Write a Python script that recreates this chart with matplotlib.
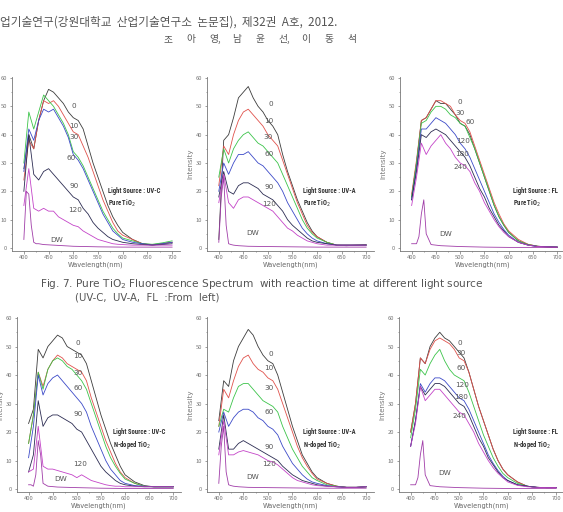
import matplotlib
matplotlib.use('Agg')
import matplotlib.pyplot as plt
from matplotlib.ticker import MultipleLocator

plt.rcParams['font.family'] = ['Noto Sans CJK KR', 'DejaVu Sans']

# =====================
# DATA
# =====================
WL = [400, 410, 420, 430, 440, 450, 460, 470, 480, 490, 500, 510, 520,
      530, 540, 550, 560, 570, 580, 590, 600, 620, 640, 660, 680, 700]
DW_WL = [400, 405, 410, 415, 420, 425, 430, 440, 460, 500, 550, 600, 650, 700]

TIMES_UV = ['0', '10', '30', '60', '90', '120']
TIMES_FL = ['0', '30', '60', '120', '180', '240']

# Pure TiO2, UV-C
uvc_pure = [
    [28, 40, 35, 45, 52, 56, 55, 53, 51, 48, 46, 45, 42, 36, 30, 25, 20, 15, 11, 8, 5.5, 3, 1.5, 1.2, 1.5, 2],
    [24, 38, 35, 45, 52, 51, 52, 50, 47, 44, 41, 40, 36, 32, 27, 22, 17, 13, 9, 6, 4.5, 3, 1.5, 1, 1.5, 2],
    [30, 48, 42, 48, 54, 52, 50, 47, 44, 40, 34, 32, 29, 25, 21, 17, 13, 10, 7, 5, 3.5, 2.5, 1.5, 1.3, 1.8, 2.5],
    [27, 42, 38, 45, 49, 48, 49, 46, 43, 39, 33, 31, 28, 24, 20, 16, 12, 9, 6, 4.5, 3, 2, 1.5, 1, 1.5, 2],
    [20, 40, 26, 24, 27, 28, 26, 24, 22, 20, 18, 17, 14, 12, 9, 7, 5.5, 4, 3, 2.5, 2, 1.5, 1.2, 1, 1.2, 1.5],
    [15, 28, 14, 13, 14, 13, 13, 11, 10, 9, 8, 7.5, 6, 5, 4, 3, 2.5, 2, 1.5, 1.3, 1.2, 1, 1, 1, 1, 1],
]
uvc_pure_dw = [3, 20, 19, 8, 2, 1.5, 1.5, 1.2, 1, 0.6, 0.4, 0.3, 0.3, 0.3]

# Pure TiO2, UV-A
uva_pure = [
    [3, 38, 40, 46, 53, 55, 57, 53, 50, 48, 45, 43, 40, 33, 27, 22, 17, 13, 9, 6, 4, 2, 1, 0.8, 1, 1.2],
    [22, 36, 33, 40, 45, 48, 49, 47, 45, 43, 40, 38, 36, 31, 26, 21, 16, 12, 8, 5.5, 4, 2, 1, 1, 1, 1],
    [25, 35, 30, 35, 38, 40, 41, 39, 37, 36, 34, 32, 30, 26, 22, 18, 14, 10, 7, 5, 3.5, 2, 1, 1, 1, 1],
    [20, 30, 26, 30, 33, 33, 34, 32, 30, 29, 27, 25, 23, 20, 16, 13, 10, 7, 5, 3.5, 2.5, 1.5, 1, 1, 1, 1],
    [18, 27, 20, 19, 22, 23, 23, 22, 21, 19, 18, 17, 15, 13, 10, 8, 6.5, 5, 3.5, 2.5, 2, 1.5, 1, 1, 1, 1],
    [16, 26, 16, 14, 17, 18, 18, 17, 16, 15, 14, 13, 11, 9, 7, 6, 4.5, 3.5, 2.5, 2, 1.5, 1, 1, 1, 1, 1],
]
uva_pure_dw = [2, 18, 25, 8, 1.5, 1.2, 1, 0.8, 0.6, 0.5, 0.4, 0.3, 0.3, 0.3]

# Pure TiO2, FL
fl_pure = [
    [18, 30, 45, 46, 49, 52, 51, 51, 49, 47, 44, 43, 40, 35, 30, 25, 20, 15, 11, 8, 5.5, 2.5, 1.2, 0.6, 0.4, 0.3],
    [19, 31, 45, 46, 49, 52, 52, 51, 50, 47, 45, 44, 41, 36, 31, 26, 21, 16, 12, 8.5, 6, 3, 1.3, 0.6, 0.4, 0.3],
    [18, 30, 44, 45, 48, 50, 50, 49, 47, 46, 44, 43, 39, 35, 30, 25, 20, 15, 11, 8, 5.5, 2.5, 1.2, 0.6, 0.4, 0.3],
    [17, 28, 42, 42, 44, 46, 45, 44, 42, 40, 37, 35, 32, 28, 24, 20, 16, 12, 9, 6.5, 4.5, 2, 1, 0.5, 0.4, 0.3],
    [17, 27, 40, 39, 41, 42, 41, 40, 38, 36, 34, 32, 29, 25, 21, 18, 14, 11, 8, 6, 4, 2, 1, 0.5, 0.4, 0.3],
    [15, 25, 37, 33, 36, 38, 40, 37, 35, 32, 30, 29, 27, 23, 20, 16, 13, 10, 7.5, 5.5, 4, 2, 1, 0.5, 0.4, 0.3],
]
fl_pure_dw = [1.5, 1.5, 1.5, 4, 12, 17, 5, 1.2, 0.8, 0.5, 0.3, 0.2, 0.2, 0.2]

# N-doped TiO2, UV-C
uvc_ndop = [
    [23, 28, 49, 46, 50, 52, 54, 53, 50, 49, 48, 47, 44, 38, 32, 26, 21, 16, 12, 8, 5, 2.5, 1.2, 0.8, 0.8, 0.8],
    [16, 26, 41, 36, 42, 45, 47, 46, 44, 43, 42, 41, 38, 32, 27, 22, 17, 13, 9, 6, 4, 2, 1, 0.8, 0.8, 0.8],
    [16, 26, 41, 35, 42, 45, 46, 45, 43, 42, 40, 38, 35, 30, 25, 20, 15, 11, 8, 5.5, 3.5, 2, 1, 0.8, 0.8, 0.8],
    [11, 22, 40, 33, 37, 39, 40, 38, 36, 34, 32, 30, 27, 22, 18, 14, 10, 7, 5, 3, 2, 1.2, 1, 0.8, 0.8, 0.8],
    [6, 12, 31, 22, 25, 26, 26, 25, 24, 23, 21, 20, 17, 14, 11, 8, 6, 4.5, 3, 2, 1.5, 1, 0.8, 0.8, 0.8, 0.8],
    [6, 7, 22, 8, 7, 7, 6.5, 6, 5.5, 5, 4, 5, 4, 3, 2.5, 2, 1.5, 1.2, 1, 1, 0.8, 0.8, 0.8, 0.8, 0.8, 0.8],
]
uvc_ndop_dw = [1.5, 1.5, 1, 5, 17, 12, 2, 1, 0.7, 0.5, 0.3, 0.2, 0.2, 0.2]

# N-doped TiO2, UV-A
uva_ndop = [
    [24, 38, 36, 45, 50, 53, 56, 54, 50, 47, 45, 44, 40, 34, 28, 22, 17, 12, 9, 6, 4, 2, 1, 0.6, 0.6, 0.8],
    [22, 35, 32, 38, 43, 46, 47, 44, 42, 41, 39, 38, 35, 30, 25, 20, 15, 11, 8, 5.5, 3.5, 2, 1, 0.6, 0.6, 0.8],
    [22, 28, 27, 32, 36, 37, 37, 35, 33, 31, 30, 29, 27, 22, 18, 14, 11, 8, 6, 4, 3, 1.5, 1, 0.6, 0.6, 0.8],
    [20, 27, 22, 25, 27, 28, 28, 27, 25, 24, 22, 21, 19, 15, 12, 9, 7, 5, 3.5, 2.5, 2, 1.2, 0.8, 0.6, 0.6, 0.8],
    [14, 26, 14, 14, 16, 17, 16, 15, 14, 13, 12, 11, 10, 8, 6.5, 5, 4, 3, 2.5, 2, 1.5, 1, 0.8, 0.6, 0.6, 0.8],
    [12, 24, 12, 12, 13, 13.5, 13, 12.5, 12, 11, 10, 9.5, 8.5, 7, 5.5, 4, 3, 2.5, 2, 1.5, 1.2, 1, 0.8, 0.6, 0.6, 0.8],
]
uva_ndop_dw = [2, 15, 22, 6, 1.5, 1.2, 1, 0.8, 0.6, 0.5, 0.4, 0.3, 0.3, 0.3]

# N-doped TiO2, FL
fl_ndop = [
    [20, 30, 46, 44, 50, 53, 55, 53, 52, 50, 48, 46, 41, 35, 29, 24, 19, 14, 10, 7, 5, 2.5, 1, 0.6, 0.5, 0.5],
    [20, 30, 46, 44, 49, 52, 53, 52, 51, 49, 46, 45, 41, 35, 29, 24, 19, 14, 10, 7, 5, 2.5, 1, 0.6, 0.5, 0.5],
    [18, 28, 42, 40, 44, 47, 49, 45, 42, 40, 39, 38, 34, 29, 24, 19, 15, 11, 8, 5.5, 4, 2, 1, 0.6, 0.5, 0.5],
    [15, 24, 37, 34, 37, 39, 39, 38, 36, 34, 32, 31, 28, 24, 20, 16, 12, 9, 6.5, 4.5, 3, 1.5, 1, 0.6, 0.5, 0.5],
    [15, 24, 36, 33, 35, 37, 37, 36, 34, 32, 30, 29, 26, 22, 18, 15, 11, 8.5, 6, 4, 3, 1.5, 1, 0.6, 0.5, 0.5],
    [15, 23, 36, 31, 33, 35, 35, 33, 31, 29, 27, 26, 23, 20, 16, 13, 10, 7.5, 5.5, 4, 2.5, 1.3, 0.8, 0.6, 0.5, 0.5],
]
fl_ndop_dw = [1.5, 1.5, 1.5, 4, 12, 17, 5, 1.2, 0.8, 0.5, 0.3, 0.2, 0.2, 0.2]

# =====================
# STYLE
# =====================
LINE_COLORS = ['#3c3c3c', '#e0524c', '#3cc44a', '#3c4ac8', '#2c2c52', '#c444c8']
DW_COLOR = '#a03ca8'
GRAY = '#555555'
NARROW = ['Roboto Condensed', 'Roboto', 'DejaVu Sans']
W, H = 563, 512

fig = plt.figure(figsize=(W / 100, H / 100), dpi=100)
fig.patch.set_facecolor('white')


def draw_panel(rect_px, curves, dw, times, label_pos, source, sample, src_x):
    left, top, width, height = rect_px
    ax = fig.add_axes([left / W, 1 - (top + height) / H, width / W, height / H])
    for vals, c in zip(curves, LINE_COLORS):
        ax.plot(WL, vals, color=c, lw=0.6)
    ax.plot(DW_WL, dw, color=DW_COLOR, lw=0.6)

    ax.set_xlim(376, 716)
    ax.set_ylim(-1, 60.5)
    ax.set_xticks(range(400, 701, 50))
    ax.yaxis.set_major_locator(MultipleLocator(10))
    ax.yaxis.set_minor_locator(MultipleLocator(5))
    ax.xaxis.set_minor_locator(MultipleLocator(25))
    ax.tick_params(which='both', direction='out', colors='#777777', labelsize=4.2,
                   length=1.8, width=0.5, pad=1.5)
    ax.tick_params(which='minor', length=1.0)
    for s in ['top', 'right']:
        ax.spines[s].set_visible(False)
    for s in ['left', 'bottom']:
        ax.spines[s].set_color('#777777')
        ax.spines[s].set_linewidth(0.6)
    ax.set_facecolor('none')

    ax.set_ylabel('Intensity', fontsize=5, color='#777777', labelpad=1.5, family='DejaVu Sans')
    ax.set_xlabel('Wavelength(nm)', fontsize=4.8, color='#666666', labelpad=1, family='DejaVu Sans')

    # reaction time labels next to the curves
    for t, (x, y) in zip(times + ['DW'], label_pos):
        ax.text(x, y, t, fontsize=5.2, color=GRAY, ha='center', va='center', family='DejaVu Sans')

    ax.text(src_x, 20, 'Light Source : ' + source, fontsize=4.8, fontweight='bold',
            color='#333333', ha='left', va='center', family=NARROW)
    ax.text(src_x, 15.6, sample + ' TiO$_2$', fontsize=4.8, fontweight='bold',
            color='#333333', ha='left', va='center', family=NARROW)
    return ax


# =====================
# TOP ROW (Pure TiO2)
# =====================
draw_panel((12, 76.6, 168, 174.2), uvc_pure, uvc_pure_dw, TIMES_UV,
           [(502, 50), (500, 43), (501, 39), (495, 31.6), (502, 22), (504, 13.3), (467, 2.7)],
           'UV-C', 'Pure', 571)
draw_panel((207, 76.6, 167, 174.2), uva_pure, uva_pure_dw, TIMES_UV,
           [(505, 51), (501, 45), (501, 39), (503, 33), (503, 21.6), (503, 15.5), (469, 5.3)],
           'UV-A', 'Pure', 572)
draw_panel((400, 76.6, 165, 174.2), fl_pure, fl_pure_dw, TIMES_FL,
           [(500, 51.7), (500, 47.6), (521, 44.6), (505, 37.8), (503, 33), (500, 28.5), (469, 5)],
           'FL', 'Pure', 609)

# =====================
# BOTTOM ROW (N-doped TiO2)
# =====================
draw_panel((17, 316.6, 164, 175.3), uvc_ndop, uvc_ndop_dw, TIMES_UV,
           [(503, 51.4), (503, 46.7), (503, 40.8), (503, 35.3), (503, 26.5), (507, 8.7), (467, 3.6)],
           'UV-C', 'N-doped', 576)
draw_panel((207, 316.6, 167, 175.3), uva_ndop, uva_ndop_dw, TIMES_UV,
           [(505, 47.4), (501, 42.6), (503, 35.3), (503, 26.9), (503, 14.7), (503, 8.8), (469, 4.4)],
           'UV-A', 'N-doped', 572)
draw_panel((399, 316.6, 165, 175.3), fl_ndop, fl_ndop_dw, TIMES_FL,
           [(501, 51.4), (503, 47.9), (503, 42.4), (506, 36.5), (504, 32.4), (501, 25.6), (470, 5.6)],
           'FL', 'N-doped', 610)

# =====================
# PAGE TEXT
# =====================
fig.text(0, 1 - 22 / H, '업기술연구(강원대학교  산업기술연구소  논문집),  제32권  A호,  2012.',
         fontsize=8.4, color='#555555', ha='left', va='center')
authors = ['조', '아', '영,', '남', '윤', '선,', '이', '동', '석']
for i, ch in enumerate(authors):
    fig.text((163 + i * 23.1) / W, 1 - 39 / H, ch, fontsize=7, color='#555555',
             ha='left', va='center')
fig.text(40 / W, 1 - 284 / H,
         'Fig. 7. Pure TiO$_2$ Fluorescence Spectrum  with reaction time at different light source',
         fontsize=7.6, color='#555555', ha='left', va='center', family='DejaVu Sans')
fig.text(75 / W, 1 - 298 / H, '(UV-C,  UV-A,  FL  :From  left)',
         fontsize=7.3, color='#555555', ha='left', va='center', family='DejaVu Sans')

fig.savefig('out.png', dpi=100, facecolor='white')
